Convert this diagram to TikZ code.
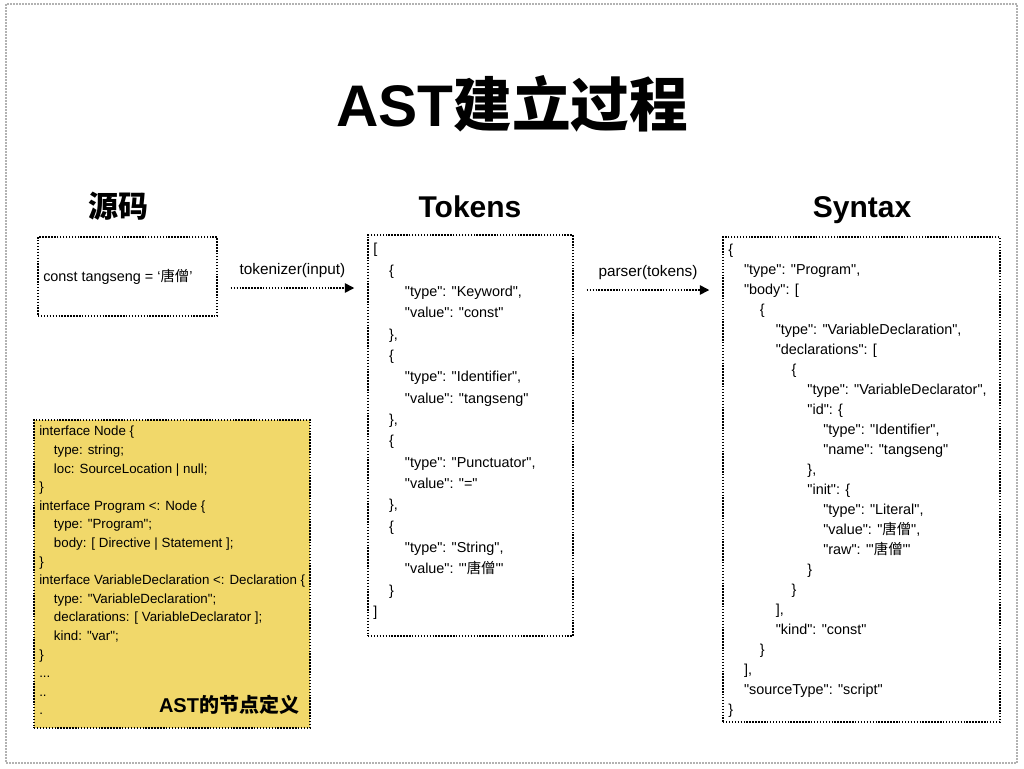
\documentclass[tikz,border=0pt]{standalone}
\usepackage{fontspec}
\setmainfont{Liberation Sans}[Ligatures=TeXOff]
\newfontfamily\cjk{Noto Sans CJK SC}
\usetikzlibrary{arrows.meta,fit,calc}
\definecolor{notefill}{RGB}{241,216,106}
\newcommand{\zh}[1]{{\cjk #1}}
\newcommand{\tab}[1]{\hspace*{#1\dimexpr1.1em\relax}}

\tikzset{
  codebox/.style={draw=black, line width=1.1pt, dash pattern=on 1.1pt off 1.1pt, inner sep=0pt},
  codetext/.style={anchor=north west, align=left, inner sep=0pt, font=\fontsize{10.8}{16}\selectfont},
  heading/.style={anchor=base, font=\fontsize{22.5}{26}\selectfont\bfseries},
  flow/.style={line width=1.1pt, dash pattern=on 1.1pt off 1.1pt, -{Triangle[length=7pt,width=7pt]}},
  flowlabel/.style={font=\fontsize{11.5}{14}\selectfont, above=4pt, midway}
}

\begin{document}
\begin{tikzpicture}[x=0.75pt,y=-0.75pt]
\useasboundingbox (0,0) rectangle (1024,768);
\draw[gray!60, line width=0.8pt, dash pattern=on 1.5pt off 0.75pt] (6,4) rectangle (1017,763);

\node[font=\fontsize{44}{50}\selectfont\bfseries] (title) at (512,104) {AST\zh{建立过程}};

\node[heading] (srchead) at (118,217) {\zh{源码}};
\node[heading] (tokhead) at (470,217) {Tokens};
\node[heading] (synhead) at (862,217) {Syntax};

% source
\node[codebox, fit={(38,237) (217,316)}] (srcbox) {};
\node[codetext, anchor=west] (srctext) at (43,277) {const tangseng = ‘\zh{唐僧}’};

% tokens
\node[codebox, fit={(368,235) (573,636)}] (tokbox) {};
\node[codetext] (toktext) at (373,243) {[\\
\tab1\{\\
\tab2"type": "Keyword",\\
\tab2"value": "const"\\
\tab1\},\\
\tab1\{\\
\tab2"type": "Identifier",\\
\tab2"value": "tangseng"\\
\tab1\},\\
\tab1\{\\
\tab2"type": "Punctuator",\\
\tab2"value": "="\\
\tab1\},\\
\tab1\{\\
\tab2"type": "String",\\
\tab2"value": "'\zh{唐僧}'"\\
\tab1\}\\
]};

% syntax tree
\node[codebox, fit={(723,237) (1000,722)}] (synbox) {};
\node[codetext, font=\fontsize{10.8}{15}\selectfont] (syntext) at (728,244) {\{\\
\tab1"type": "Program",\\
\tab1"body": [\\
\tab2\{\\
\tab3"type": "VariableDeclaration",\\
\tab3"declarations": [\\
\tab4\{\\
\tab5"type": "VariableDeclarator",\\
\tab5"id": \{\\
\tab6"type": "Identifier",\\
\tab6"name": "tangseng"\\
\tab5\},\\
\tab5"init": \{\\
\tab6"type": "Literal",\\
\tab6"value": "\zh{唐僧}",\\
\tab6"raw": "'\zh{唐僧}'"\\
\tab5\}\\
\tab4\}\\
\tab3],\\
\tab3"kind": "const"\\
\tab2\}\\
\tab1],\\
\tab1"sourceType": "script"\\
\}};

% node definitions
\node[codebox, fill=notefill, fit={(34,420) (310,728)}] (defbox) {};
\node[codetext, font=\fontsize{10}{13.95}\selectfont] (deftext) at (39,426) {interface Node \{\\
\tab1type: string;\\
\tab1loc: SourceLocation | null;\\
\}\\
interface Program <: Node \{\\
\tab1type: "Program";\\
\tab1body: [ Directive | Statement ];\\
\}\\
interface VariableDeclaration <: Declaration \{\\
\tab1type: "VariableDeclaration";\\
\tab1declarations: [ VariableDeclarator ];\\
\tab1kind: "var";\\
\}\\
...\\
..\\
.};
\node[font=\fontsize{15}{18}\selectfont\bfseries] (deflabel) at (229,705) {AST\zh{的节点定义}};

\draw[flow, shorten <=9.75pt, shorten >=9.75pt] (srcbox.east |- 0,288) -- (tokbox.west |- 0,288)
  node[flowlabel] (tokenizer) {tokenizer(input)};
\draw[flow, shorten <=9.75pt, shorten >=9.75pt] (tokbox.east |- 0,290) -- (synbox.west |- 0,290)
  node[flowlabel] (parser) {parser(tokens)};
\end{tikzpicture}
\end{document}
